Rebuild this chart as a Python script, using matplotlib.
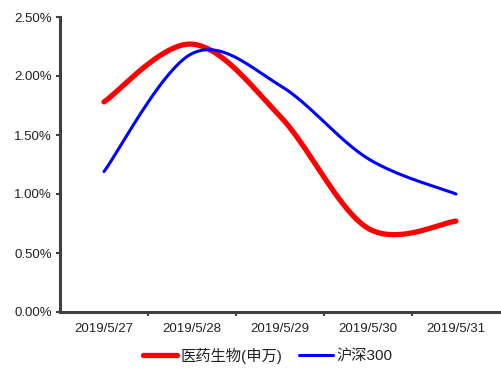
import numpy as np
import matplotlib.pyplot as plt

plt.rcParams['font.family'] = ['Liberation Sans', 'Noto Sans CJK SC', 'DejaVu Sans']

dates = ['2019/5/27', '2019/5/28', '2019/5/29', '2019/5/30', '2019/5/31']
pharma = [1.78, 2.27, 1.66, 0.71, 0.77]
hs300 = [1.19, 2.19, 1.92, 1.30, 1.00]


def smooth(xs, ys, n=40):
    """Bezier smoothing through the points, like the spreadsheet 'smoothed line'."""
    pts = np.column_stack([xs, ys]).astype(float)
    padded = np.vstack([pts[0], pts, pts[-1]])
    out = []
    t = np.linspace(0, 1, n)[:, None]
    for i in range(len(pts) - 1):
        p0, p1, p2, p3 = padded[i], padded[i + 1], padded[i + 2], padded[i + 3]
        c1 = p1 + (p2 - p0) / 6
        c2 = p2 - (p3 - p1) / 6
        seg = ((1 - t) ** 3) * p1 + 3 * ((1 - t) ** 2) * t * c1 + 3 * (1 - t) * t ** 2 * c2 + t ** 3 * p2
        out.append(seg if i == 0 else seg[1:])
    seg = np.vstack(out)
    return seg[:, 0], seg[:, 1]


fig = plt.figure(figsize=(5.01, 3.70), dpi=100)
ax = fig.add_axes([60 / 501, 58 / 370, 440 / 501, 295 / 370])

x = np.arange(len(dates))
sx, sy = smooth(x, pharma)
ax.plot(sx, sy, color='#ff0000', lw=3.8, solid_capstyle='round', label='医药生物(申万)')
sx, sy = smooth(x, hs300)
ax.plot(sx, sy, color='#0000ff', lw=2.2, solid_capstyle='round', label='沪深300')

ax.set_xlim(-0.5, len(dates) - 0.5)
ax.set_ylim(0, 2.5)
ax.set_yticks(np.arange(0, 2.51, 0.5))
ax.set_yticklabels([f'{v:.2f}%' for v in np.arange(0, 2.51, 0.5)], fontsize=9.5, color='#222222')
ax.set_xticks(x)
ax.set_xticklabels(dates, fontsize=9.5, color='#222222')
ax.tick_params(axis='x', length=0, pad=8)
ax.set_xticks(x[:-1] + 0.5, minor=True)
ax.tick_params(axis='x', which='minor', length=3, width=1.5, color='#404040', direction='out')
ax.tick_params(axis='y', length=3, width=1.5, color='#404040', pad=3)

for side in ['top', 'right']:
    ax.spines[side].set_visible(False)
for side in ['left', 'bottom']:
    ax.spines[side].set_color('#404040')
    ax.spines[side].set_linewidth(2.2)

leg = fig.legend(loc='lower center', bbox_to_anchor=(0.535, -0.02), ncol=2, frameon=False,
                 fontsize=11, handlelength=2.2, columnspacing=1.1, handletextpad=0.25)
for t in leg.get_texts():
    t.set_color('#222222')

fig.savefig('out.png', dpi=100)
